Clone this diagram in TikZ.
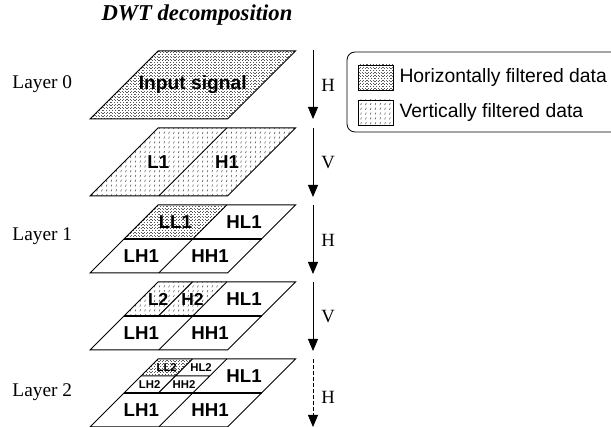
\documentclass[tikz,border=0pt]{standalone}
\usepackage{fontspec}
\setmainfont{Liberation Serif}
\setsansfont{Liberation Sans}
\usetikzlibrary{arrows.meta,patterns}

% fill for horizontally filtered data
\pgfdeclarepatternformonly{hfilt}{\pgfqpoint{-0.2pt}{-0.2pt}}{\pgfqpoint{2.6pt}{2.6pt}}{\pgfqpoint{2.4pt}{2.4pt}}{
    \pgfsetlinewidth{0.4pt}
    \pgfpathmoveto{\pgfqpoint{0pt}{0pt}}\pgfpathlineto{\pgfqpoint{0.9pt}{0pt}}
    \pgfpathmoveto{\pgfqpoint{1.2pt}{1.2pt}}\pgfpathlineto{\pgfqpoint{2.1pt}{1.2pt}}
    \pgfusepath{stroke}
}
% fill for vertically filtered data
\pgfdeclarepatternformonly{vfilt}{\pgfqpoint{-0.2pt}{-0.2pt}}{\pgfqpoint{3.8pt}{3.8pt}}{\pgfqpoint{3.6pt}{3.6pt}}{
    \pgfsetlinewidth{0.4pt}
    \pgfpathmoveto{\pgfqpoint{0.5pt}{0.3pt}}\pgfpathlineto{\pgfqpoint{1.1pt}{1.8pt}}
    \pgfusepath{stroke}
}

\begin{document}
\begin{tikzpicture}[x=0.75pt, y=-0.75pt, line width=0.75pt]
    \tikzstyle{marrs}=[line width=0.6pt,-{Triangle[length=9pt,width=7.5pt]}]
    \tikzstyle{blk}=[font=\fontsize{14}{16}\selectfont\sffamily\bfseries, inner sep=0pt]
    \tikzstyle{sblk}=[font=\fontsize{8.5}{9}\selectfont\sffamily\bfseries, inner sep=0pt]
    \tikzstyle{ser}=[font=\fontsize{14.5}{16}\selectfont, inner sep=0pt]
    \tikzstyle{plane}=[x={(103.125pt,0pt)}, y={(51pt,51pt)}]
    \tikzstyle{hf}=[pattern=hfilt, pattern color=black!65]
    \tikzstyle{vf}=[pattern=vfilt, pattern color=black!70]

    \useasboundingbox (0,0) rectangle (611,427);

    \node[font=\fontsize{17}{19}\selectfont\bfseries\itshape] (title) at (197,15) {DWT decomposition};
    \node[ser, anchor=west] (lay0) at (12,84) {Layer 0};
    \node[ser, anchor=west] (lay1) at (12,236) {Layer 1};
    \node[ser, anchor=west] (lay2) at (12,392) {Layer 2};

    % input signal
    \begin{scope}[shift={(90,119)}, plane]
        \draw[hf] (0,0) -- (1,0) -- (1,1) -- (0,1) -- cycle;
        \node[blk, font=\fontsize{14.4}{16}\selectfont\sffamily\bfseries] (insig) at (.5,.5) {Input signal};
    \end{scope}

    % L1 / H1
    \begin{scope}[shift={(90,196)}, plane]
        \draw[vf] (0,0) -- (1,0) -- (1,1) -- (0,1) -- cycle;
        \draw (.5,0) -- (.5,1);
        \node[blk] (l1) at (.25,.5) {L1};
        \node[blk] (h1) at (.75,.5) {H1};
    \end{scope}

    % layer 1
    \begin{scope}[shift={(90,273)}, plane]
        \fill[hf] (0,.5) -- (.5,.5) -- (.5,1) -- (0,1) -- cycle;
        \draw (0,0) -- (1,0) -- (1,1) -- (0,1) -- cycle;
        \draw (.5,0) -- (.5,1);
        \draw[line width=1pt] (0,.5) -- (1,.5);
        \node[blk] (ll1) at (.25,.75) {LL1};
        \node[blk] (hl1) at (.75,.75) {HL1};
        \node[blk] (lh1) at (.25,.25) {LH1};
        \node[blk] (hh1) at (.75,.25) {HH1};
    \end{scope}

    % L2 / H2
    \begin{scope}[shift={(90,350)}, plane]
        \fill[vf] (0,.5) -- (.5,.5) -- (.5,1) -- (0,1) -- cycle;
        \draw (0,0) -- (1,0) -- (1,1) -- (0,1) -- cycle;
        \draw (.5,0) -- (.5,1) (.25,.5) -- (.25,1);
        \draw[line width=1pt] (0,.5) -- (1,.5);
        \node[blk, font=\fontsize{13}{15}\selectfont\sffamily\bfseries] (l2) at (.125,.75) {L2};
        \node[blk, font=\fontsize{13}{15}\selectfont\sffamily\bfseries] (h2) at (.375,.75) {H2};
        \node[blk] (hl1b) at (.75,.75) {HL1};
        \node[blk] (lh1b) at (.25,.25) {LH1};
        \node[blk] (hh1b) at (.75,.25) {HH1};
    \end{scope}

    % layer 2
    \begin{scope}[shift={(90,427)}, plane]
        \fill[hf] (0,.75) -- (.25,.75) -- (.25,1) -- (0,1) -- cycle;
        \draw (0,0) -- (1,0) -- (1,1) -- (0,1) -- cycle;
        \draw (.5,0) -- (.5,1) (.25,.5) -- (.25,1) (0,.75) -- (.5,.75);
        \draw[line width=1pt] (0,.5) -- (1,.5);
        \node[sblk] (ll2) at (.125,.875) {LL2};
        \node[sblk] (hl2) at (.375,.875) {HL2};
        \node[sblk] (lh2) at (.125,.625) {LH2};
        \node[sblk] (hh2) at (.375,.625) {HH2};
        \node[blk] (hl1c) at (.75,.75) {HL1};
        \node[blk] (lh1c) at (.25,.25) {LH1};
        \node[blk] (hh1c) at (.75,.25) {HH1};
    \end{scope}

    % filter direction arrows
    \foreach \t/\i/\d in {50/0/H, 128/1/V, 205/2/H, 282/3/V} {
        \coordinate (as\i) at (313,\t);
        \coordinate (ae\i) at (313,\t+69);
        \draw[marrs] (as\i) -- (ae\i);
        \node[ser, font=\fontsize{14}{16}\selectfont] (dir\i) at (328,\t+35) {\d};
    }
    \coordinate (as4) at (313,359);
    \coordinate (ae4) at (313,427);
    \draw[marrs, dash pattern=on 3pt off 1.5pt] (as4) -- (ae4);
    \node[ser, font=\fontsize{14}{16}\selectfont] (dir4) at (328,397) {H};

    % legend
    \draw[rounded corners=6, line width=0.6pt] (347,52) rectangle (650,132);
    \draw[hf, line width=0.6pt] (358,65) rectangle (393,90);
    \draw[vf, line width=0.6pt] (358,100) rectangle (393,125);
    \node[anchor=west, inner sep=0pt, font=\fontsize{14.5}{16}\selectfont\sffamily] (hleg) at (399,78) {Horizontally filtered data};
    \node[anchor=west, inner sep=0pt, font=\fontsize{14.5}{16}\selectfont\sffamily] (vleg) at (399,113) {Vertically filtered data};
\end{tikzpicture}
\end{document}
